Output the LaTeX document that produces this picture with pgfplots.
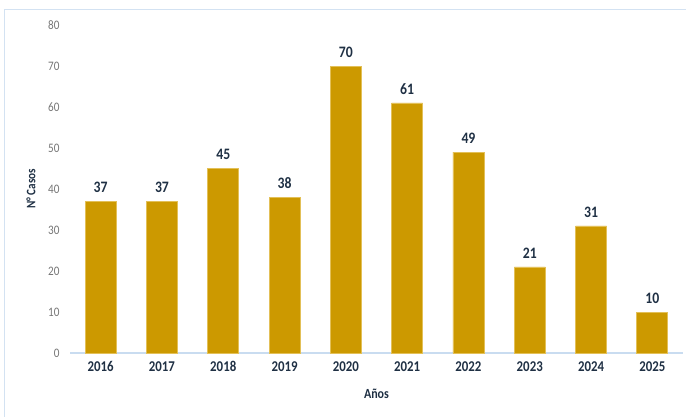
\documentclass[border=0pt]{standalone}
\usepackage{fontspec}
\setmainfont{Carlito}[FakeStretch=0.86]
\usepackage{pgfplots}
\pgfplotsset{compat=1.18}
\definecolor{barc}{HTML}{CC9900}
\definecolor{bare}{HTML}{E3C058}
\definecolor{txt}{HTML}{1F3044}
\definecolor{tick}{HTML}{767676}
\definecolor{axl}{HTML}{C9DCF0}
\definecolor{frame}{HTML}{D3E2F2}
\begin{document}
\begin{tikzpicture}[x=1bp,y=1bp]
\useasboundingbox (0,0) rectangle (690,416);
\draw[frame, line width=1.2bp] (4.5,-5) -- (4.5,406.5) -- (686,406.5);
\begin{axis}[
  at={(70bp,63bp)}, anchor=south west,
  scale only axis, width=613bp, height=328bp,
  xmin=-0.5, xmax=9.5, ymin=0, ymax=80,
  ytick={0,10,...,80},
  xtick=data,
  xticklabels={2016,2017,2018,2019,2020,2021,2022,2023,2024,2025},
  axis line style={draw=none},
  axis x line*=bottom,
  x axis line style={draw=axl, line width=1.2bp},
  axis y line=none,
  hide y axis=false,
  major tick length=0pt,
  tick style={draw=none},
  ybar, bar width=31bp,
  yticklabel style={font=\fontsize{13}{15}\selectfont, text=tick, xshift=-7bp},
  xticklabel style={font=\bfseries\fontsize{15}{17}\selectfont, text=txt, yshift=-5bp},
  /pgf/number format/assume math mode=true,
  ylabel={N° Casos}, xlabel={Años},
  ylabel style={font=\bfseries\fontsize{13}{15}\selectfont, text=txt, yshift=6bp},
  xlabel style={font=\bfseries\fontsize{14}{16}\selectfont, text=txt, yshift=-10bp},
  nodes near coords,
  every node near coord/.append style={font=\bfseries\fontsize{16}{18}\selectfont, text=txt, yshift=5bp},
  clip=false,
]
\addplot[fill=barc, draw=bare, line width=0.8bp] coordinates {
(0,37) (1,37) (2,45) (3,38) (4,70) (5,61) (6,49) (7,21) (8,31) (9,10)};
\end{axis}
\end{tikzpicture}
\end{document}
